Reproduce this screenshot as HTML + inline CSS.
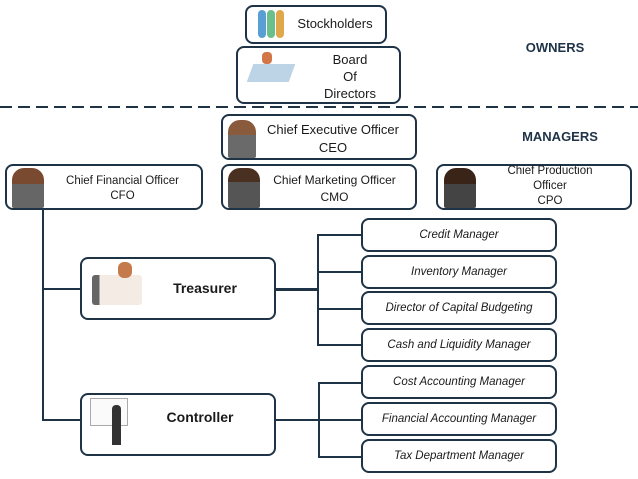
<!DOCTYPE html>
<html><head><meta charset="utf-8"><style>
body{margin:0;width:638px;height:479px;background:#fff;position:relative;overflow:hidden;font-family:"Liberation Sans",sans-serif;color:#1a1a1a}
.b{position:absolute;border:2px solid #1f3347;border-radius:8px;box-sizing:border-box;background:#fff}
.t{position:absolute;text-align:center;font-size:12px;line-height:15px}
.i{font-style:italic;font-size:11.5px;display:flex;align-items:center;justify-content:center}
.l{position:absolute;background:#1f3347}
.p{position:absolute}
</style></head><body>
<div class="b" style="left:245px;top:5px;width:142px;height:39px"></div>
<div class="t" style="left:295px;top:16px;width:80px;font-size:13px">Stockholders</div>
<div class="p" style="left:258px;top:10px;width:8px;height:28px;background:#5a9fd4;border-radius:4px"></div>
<div class="p" style="left:267px;top:10px;width:8px;height:28px;background:#6bbf8a;border-radius:4px"></div>
<div class="p" style="left:276px;top:10px;width:8px;height:28px;background:#e0a84a;border-radius:4px"></div>

<div class="b" style="left:236px;top:46px;width:165px;height:58px"></div>
<div class="t" style="left:305px;top:51px;width:90px;font-size:13px;line-height:17px">Board<br>Of<br>Directors</div>
<div class="p" style="left:250px;top:64px;width:42px;height:18px;background:#bcd4e6;transform:skewX(-20deg)"></div>
<div class="p" style="left:262px;top:52px;width:10px;height:12px;background:#d2764a;border-radius:4px"></div>

<div class="p" style="left:0;top:106px;width:638px;height:2px;background:repeating-linear-gradient(90deg,#1f3347 0 12px,transparent 12px 18px)"></div>
<div class="t" style="left:510px;top:40px;width:90px;font-weight:bold;font-size:13px;color:#1f3347">OWNERS</div>
<div class="t" style="left:510px;top:129px;width:100px;font-weight:bold;font-size:13px;color:#1f3347">MANAGERS</div>

<div class="b" style="left:221px;top:114px;width:196px;height:46px"></div>
<div class="t" style="left:258px;top:121px;width:150px;font-size:13px;line-height:18px">Chief Executive Officer<br>CEO</div>
<div class="b" style="left:5px;top:164px;width:198px;height:46px"></div>
<div class="t" style="left:55px;top:174px;width:135px;font-size:11.5px">Chief Financial Officer<br>CFO</div>
<div class="b" style="left:221px;top:164px;width:196px;height:46px"></div>
<div class="t" style="left:262px;top:172px;width:145px;font-size:12px;line-height:17px">Chief Marketing Officer<br>CMO</div>
<div class="b" style="left:436px;top:164px;width:196px;height:46px"></div>
<div class="t" style="left:490px;top:164px;width:120px;font-size:11.5px">Chief Production<br>Officer<br>CPO</div>
<div class="p" style="left:228px;top:120px;width:28px;height:38px;background:linear-gradient(#8a5a3c 0 40%,#6a6a6a 40%);border-radius:12px 12px 2px 2px"></div>
<div class="p" style="left:12px;top:168px;width:32px;height:40px;background:linear-gradient(#7a4a30 0 40%,#666 40%);border-radius:12px 12px 2px 2px"></div>
<div class="p" style="left:228px;top:168px;width:32px;height:40px;background:linear-gradient(#4a3020 0 35%,#555 35%);border-radius:12px 12px 2px 2px"></div>
<div class="p" style="left:444px;top:168px;width:32px;height:40px;background:linear-gradient(#3a2418 0 40%,#444 40%);border-radius:12px 12px 2px 2px"></div>

<div class="l" style="left:42px;top:210px;width:2px;height:211px"></div>
<div class="l" style="left:42px;top:288px;width:38px;height:2px"></div>
<div class="l" style="left:42px;top:419px;width:38px;height:2px"></div>

<div class="b" style="left:80px;top:257px;width:196px;height:63px"></div>
<div class="t" style="left:160px;top:281px;width:90px;font-size:14px;font-weight:bold">Treasurer</div>
<div class="p" style="left:92px;top:275px;width:50px;height:30px;background:linear-gradient(90deg,#666 0 15%,#f4ece4 15%);border-radius:3px"></div>
<div class="p" style="left:118px;top:262px;width:14px;height:16px;background:#c47a4a;border-radius:6px"></div>
<div class="b" style="left:80px;top:393px;width:196px;height:63px"></div>
<div class="t" style="left:155px;top:410px;width:90px;font-size:14px;font-weight:bold">Controller</div>
<div class="p" style="left:90px;top:398px;width:36px;height:26px;border:1px solid #aaa;background:#fafafa"></div>
<div class="p" style="left:112px;top:405px;width:9px;height:40px;background:#333;border-radius:4px 4px 0 0"></div>

<div class="l" style="left:276px;top:288px;width:42px;height:3px"></div>
<div class="l" style="left:317px;top:234px;width:2px;height:112px"></div>
<div class="l" style="left:317px;top:234px;width:44px;height:2px"></div>
<div class="l" style="left:317px;top:271px;width:44px;height:2px"></div>
<div class="l" style="left:317px;top:308px;width:44px;height:2px"></div>
<div class="l" style="left:317px;top:344px;width:44px;height:2px"></div>
<div class="l" style="left:276px;top:419px;width:42px;height:2px"></div>
<div class="l" style="left:318px;top:382px;width:2px;height:76px"></div>
<div class="l" style="left:318px;top:382px;width:43px;height:2px"></div>
<div class="l" style="left:318px;top:419px;width:43px;height:2px"></div>
<div class="l" style="left:318px;top:456px;width:43px;height:2px"></div>

<div class="b t i" style="left:361px;top:218px;width:196px;height:34px">Credit Manager</div>
<div class="b t i" style="left:361px;top:255px;width:196px;height:34px">Inventory Manager</div>
<div class="b t i" style="left:361px;top:291px;width:196px;height:34px">Director of Capital Budgeting</div>
<div class="b t i" style="left:361px;top:328px;width:196px;height:34px">Cash and Liquidity Manager</div>
<div class="b t i" style="left:361px;top:365px;width:196px;height:34px">Cost Accounting Manager</div>
<div class="b t i" style="left:361px;top:402px;width:196px;height:34px">Financial Accounting Manager</div>
<div class="b t i" style="left:361px;top:439px;width:196px;height:34px">Tax Department Manager</div>
</body></html>
